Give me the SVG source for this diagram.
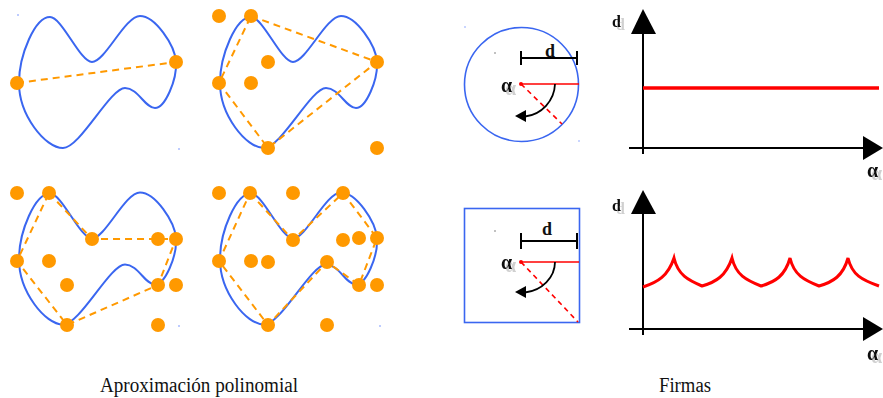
<svg xmlns="http://www.w3.org/2000/svg" width="883" height="398" viewBox="0 0 883 398">
<style>
.blob{fill:none;stroke:#3a66f0;stroke-width:2}
.dash{fill:none;stroke:#ff9900;stroke-width:2;stroke-dasharray:7,5}
.dot{fill:#ff9900}
.ax{stroke:#000;stroke-width:2;fill:none}
.lbl{font-family:"Liberation Serif",serif;font-weight:bold;fill:#111}
.shd{filter:url(#shadow)}
.cap{font-family:"Liberation Serif",serif;font-size:20px;fill:#111}
.speck{fill:#6b8cff}
</style>
<defs>
<path id="shape" d="M19,83 C19,55 35,17 50,17 C62,17 80,62 92,62 C105,62 125,16 140,16 C155,16 175,45 176,62 C177,80 165,108 155,108 C145,108 138,88 125,88 C110,88 80,148 63,148 C45,148 19,115 19,83 Z"/>
<filter id="shadow" x="-50%" y="-50%" width="200%" height="200%">
<feFlood flood-color="#d0d0d0" result="c"/>
<feComposite in="c" in2="SourceAlpha" operator="in" result="g"/>
<feOffset in="g" dx="4" dy="3" result="o"/>
<feMerge><feMergeNode in="o"/><feMergeNode in="SourceGraphic"/></feMerge>
</filter>
</defs>
<rect width="883" height="398" fill="#fff"/>
<g id="poly1">
<use href="#shape" class="blob"/>
<line class="dash" x1="17" y1="83" x2="176" y2="62"/>
<circle class="dot" cx="17" cy="83" r="7"/><circle class="dot" cx="176" cy="62" r="7"/>
<circle class="speck" cx="18" cy="15" r="0.8"/><circle class="speck" cx="179" cy="149" r="0.8"/>
</g>
<g id="poly2">
<use href="#shape" class="blob" transform="translate(201,0)"/>
<polygon class="dash" points="251,16 377,62 268,148 219,83"/>
<circle class="dot" cx="219" cy="16" r="7"/><circle class="dot" cx="251" cy="16" r="7"/>
<circle class="dot" cx="268" cy="62" r="7"/><circle class="dot" cx="251" cy="83" r="7"/>
<circle class="dot" cx="219" cy="83" r="7"/><circle class="dot" cx="377" cy="62" r="7"/>
<circle class="dot" cx="268" cy="148" r="7"/><circle class="dot" cx="377" cy="148" r="7"/>
</g>
<g id="poly3">
<use href="#shape" class="blob" transform="translate(0,176.5)"/>
<polygon class="dash" points="49,193 92,239 176,239 158,285 67,325 17,261"/>
<circle class="dot" cx="17" cy="193" r="7"/><circle class="dot" cx="49" cy="193" r="7"/>
<circle class="dot" cx="92" cy="239" r="7"/><circle class="dot" cx="158" cy="239" r="7"/>
<circle class="dot" cx="176" cy="239" r="7"/><circle class="dot" cx="17" cy="261" r="7"/>
<circle class="dot" cx="49" cy="261" r="7"/><circle class="dot" cx="67" cy="285" r="7"/>
<circle class="dot" cx="158" cy="285" r="7"/><circle class="dot" cx="176" cy="285" r="7"/>
<circle class="dot" cx="67" cy="325" r="7"/><circle class="dot" cx="158" cy="325" r="7"/>
<circle class="speck" cx="179" cy="326" r="0.8"/>
</g>
<g id="poly4">
<use href="#shape" class="blob" transform="translate(201,176.5)"/>
<polygon class="dash" points="250,193 293,240 343,193 377,238 359,285 327,262 268,325 219,261"/>
<circle class="dot" cx="219" cy="193" r="7"/><circle class="dot" cx="250" cy="193" r="7"/>
<circle class="dot" cx="293" cy="193" r="7"/><circle class="dot" cx="343" cy="193" r="7"/>
<circle class="dot" cx="293" cy="240" r="7"/><circle class="dot" cx="343" cy="240" r="7"/>
<circle class="dot" cx="359" cy="238" r="7"/><circle class="dot" cx="377" cy="238" r="7"/>
<circle class="dot" cx="219" cy="261" r="7"/><circle class="dot" cx="251" cy="261" r="7"/>
<circle class="dot" cx="268" cy="262" r="7"/><circle class="dot" cx="327" cy="262" r="7"/>
<circle class="dot" cx="359" cy="285" r="7"/><circle class="dot" cx="377" cy="285" r="7"/>
<circle class="dot" cx="268" cy="325" r="7"/><circle class="dot" cx="327" cy="325" r="7"/>
<circle class="speck" cx="380" cy="326" r="0.8"/>
</g>
<g id="sig-circle">
<circle cx="521.5" cy="84.5" r="57" fill="none" stroke="#3a66f0" stroke-width="1.6"/>
<path class="ax" d="M521,58 H577 M521,51 V65 M577,51 V65" stroke-width="1.8"/>
<text class="lbl" x="550" y="57" font-size="18" text-anchor="middle">d</text>
<text class="lbl shd" x="501" y="92" font-size="20">α</text>
<line x1="521" y1="84" x2="579" y2="84" stroke="#f00" stroke-width="1.6"/>
<line x1="521" y1="84" x2="562" y2="124" stroke="#f00" stroke-width="1.6" stroke-dasharray="5,4"/>
<circle cx="521" cy="84" r="2" fill="#f00"/>
<path d="M555,84 A34,34 0 0 1 525,116.5" fill="none" stroke="#000" stroke-width="1.8"/>
<polygon points="515,116 526,110 526,122" fill="#000"/>
<circle cx="465" cy="27" r="0.7" class="speck"/><circle cx="495" cy="53" r="0.7" fill="#555"/><circle cx="579" cy="141" r="0.7" class="speck"/>
</g>
<g id="sig-square">
<rect x="464.5" y="208.5" width="115" height="114" fill="none" stroke="#3a66f0" stroke-width="1.6"/>
<path class="ax" d="M521,241 H577 M521,233 V249 M577,233 V249" stroke-width="1.8"/>
<text class="lbl" x="547" y="235" font-size="18" text-anchor="middle">d</text>
<text class="lbl shd" x="501" y="269" font-size="20">α</text>
<line x1="521" y1="262" x2="579" y2="262" stroke="#f00" stroke-width="1.6"/>
<line x1="521" y1="262" x2="578" y2="322" stroke="#f00" stroke-width="1.6" stroke-dasharray="5,4"/>
<circle cx="521" cy="262" r="2" fill="#f00"/>
<path d="M555,262 A34,31 0 0 1 525,292.5" fill="none" stroke="#000" stroke-width="1.8"/>
<polygon points="515,292 526,286 526,298" fill="#000"/>
<circle cx="495" cy="231" r="0.7" fill="#555"/>
</g>
<g id="graph1">
<line class="ax" x1="643" y1="32" x2="643" y2="154"/>
<polygon points="643,9 631,34 656,34" fill="#000"/>
<line class="ax" x1="629" y1="148" x2="865" y2="148"/>
<polygon points="883,148 863,136 863,160" fill="#000"/>
<line x1="643" y1="88" x2="879" y2="88" stroke="#f00" stroke-width="3.5"/>
<text class="lbl shd" x="612" y="27" font-size="16">d</text>
<text class="lbl shd" x="867" y="177" font-size="20">α</text>
</g>
<g id="graph2">
<line class="ax" x1="643" y1="212" x2="643" y2="335"/>
<polygon points="643,190 631,214 656,214" fill="#000"/>
<line class="ax" x1="629" y1="329" x2="865" y2="329"/>
<polygon points="883,329 863,317 863,341" fill="#000"/>
<path d="M643,287 C658,282 668,276 674,258 C678,275 688,280 702,286 C716,282 726,276 732,258 C736,275 746,280 761,286 C775,282 785,276 790,258 C794,275 804,280 819,286 C833,282 843,276 848,258 C852,275 862,280 879,286" fill="none" stroke="#f00" stroke-width="3"/>
<text class="lbl shd" x="612" y="211" font-size="16">d</text>
<text class="lbl shd" x="867" y="360" font-size="20">α</text>
</g>
<text class="cap" x="100" y="392" textLength="198" lengthAdjust="spacingAndGlyphs">Aproximación polinomial</text>
<text class="cap" x="659" y="392" textLength="52" lengthAdjust="spacingAndGlyphs">Firmas</text>
</svg>
